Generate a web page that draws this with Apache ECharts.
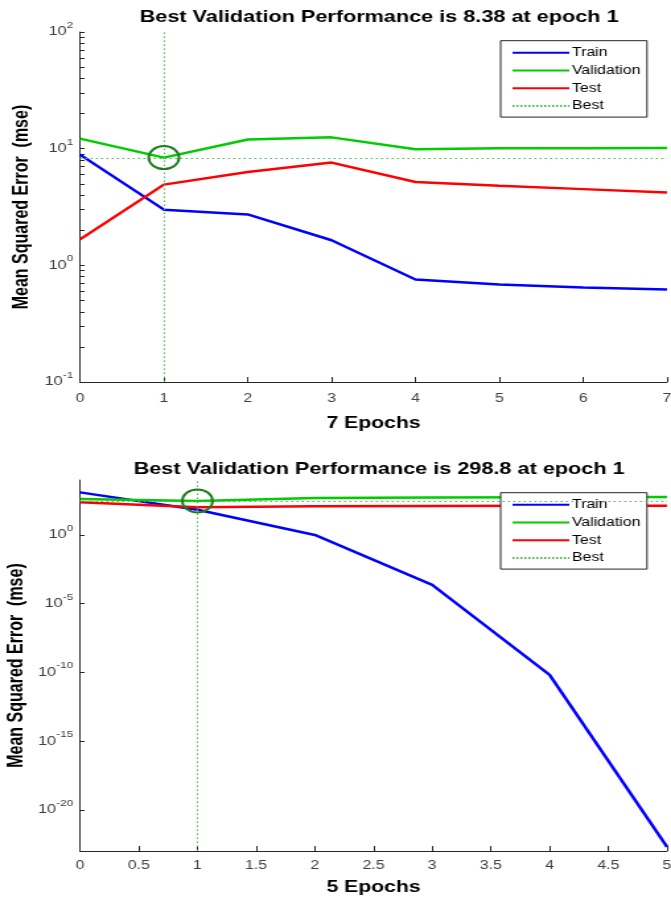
<!DOCTYPE html>
<html>
<head>
<meta charset="utf-8">
<title>Training performance</title>
<script src="https://cdn.jsdelivr.net/npm/echarts@6/dist/echarts.min.js"></script>
<style>
  html, body { margin: 0; padding: 0; background: #ffffff; overflow: hidden; }
  /* the figure is laid out on a narrower canvas and widened horizontally */
  #chart { width: 508px; height: 899px; transform: scaleX(1.3209); transform-origin: 0 0; }
</style>
</head>
<body>
<div id="chart"></div>
<script>
// ---- run 1: 7 epochs ----
const epochsA = [0, 1, 2, 3, 4, 5, 6, 7];
const trainA  = [8.9, 3.0, 2.73, 1.64, 0.757, 0.685, 0.645, 0.62];
const validA  = [12.2, 8.38, 12.0, 12.5, 9.9, 10.1, 10.1, 10.15];
const testA   = [1.67, 4.92, 6.3, 7.6, 5.18, 4.8, 4.5, 4.2];
const bestEpochA = 1;
const bestValueA = 8.38;
const yDecadesA = [-1, 0, 1, 2];          // log10 of labelled ticks
const xTicksA = { min: 0, max: 7, step: 1 };

// ---- run 2: 5 epochs ----
const epochsB = [0, 1, 2, 3, 4, 5];
const trainB  = [1260, 69, 1.0, 2.3e-4, 6.5e-11, 2e-23];
const validB  = [420, 298.8, 500, 530, 550, 570];
const testB   = [240, 105, 125, 130, 133, 135];
const bestEpochB = 1;
const bestValueB = 298.8;
const yDecadesB = [-20, -15, -10, -5, 0];
const yRangeB = [-23, 4];
const xTicksB = { min: 0, max: 5, step: 0.5 };

const seriesNames = ['Train', 'Validation', 'Test', 'Best'];

const FONT = "'Liberation Sans', Arial, Helvetica, sans-serif";
const AXIS = '#262626';
const TICKTXT = '#404040';
const C_TRAIN = '#0000ff', C_VALID = '#00cc00', C_TEST = '#ff0000';
const C_BEST = '#4cbb4c', C_CIRCLE = '#1f7d1f';

const lg = v => Math.log10(v);
const toPts = (xs, ys) => xs.map((x, i) => [x, lg(ys[i])]);

// minor ticks at 2..9 inside every decade
function decadeTicks(lo, hi) {
  const out = [];
  for (let d = lo; d <= hi; d++) {
    out.push(d);
    if (d < hi) for (let k = 2; k <= 9; k++) out.push(d + Math.log10(k));
  }
  return out;
}

const powLabel = v => '{b|10}{s|' + Math.round(v) + '}';
const powRich = {
  b: { fontSize: 12.5, color: TICKTXT, fontFamily: FONT, lineHeight: 22 },
  s: { fontSize: 9, color: TICKTXT, fontFamily: FONT, lineHeight: 11, verticalAlign: 'top' }
};

function lineSeries(name, color, xs, ys, idx) {
  return {
    name, type: 'line', xAxisIndex: idx, yAxisIndex: idx,
    data: toPts(xs, ys), symbol: 'none', silent: true,
    lineStyle: { color, width: 2.5 }, itemStyle: { color }, z: 3
  };
}

function bestSeries(epoch, value, idx) {
  const dots = { color: C_BEST, width: 1, type: [1.5, 2.5] };
  return {
    name: 'Best', type: 'line', xAxisIndex: idx, yAxisIndex: idx,
    data: [[epoch, lg(value)]], symbol: 'none', silent: true, z: 2,
    lineStyle: { color: C_BEST, width: 1, type: [1.5, 1.5] }, itemStyle: { color: C_BEST },
    markLine: {
      silent: true, symbol: ['none', 'none'], label: { show: false },
      lineStyle: dots, emphasis: { disabled: true },
      data: [{ xAxis: epoch }, { yAxis: lg(value) }]
    },
    markPoint: {
      silent: true, symbol: 'circle', symbolSize: 23, label: { show: false },
      itemStyle: { color: 'rgba(0,0,0,0)', borderColor: C_CIRCLE, borderWidth: 2 },
      data: [{ coord: [epoch, lg(value)] }]
    }
  };
}

function xAxis(idx, t, labelMargin, nameGap, name) {
  return {
    type: 'value', gridIndex: idx, min: t.min, max: t.max, interval: t.step,
    name, nameLocation: 'middle', nameGap, nameMoveOverlap: false,
    nameTextStyle: { fontSize: 16, fontWeight: 'bold', color: '#000', fontFamily: FONT },
    axisLine: { show: true, onZero: false, lineStyle: { color: AXIS, width: 1 } },
    axisTick: { show: true, inside: true, length: 5, lineStyle: { color: AXIS } },
    axisLabel: { fontSize: 12, color: TICKTXT, fontFamily: FONT, margin: labelMargin },
    splitLine: { show: false }
  };
}

function yAxis(idx, lo, hi, tickVals, labelVals, nameGap) {
  return {
    type: 'value', gridIndex: idx, min: lo, max: hi,
    name: 'Mean Squared Error  (mse)', nameLocation: 'middle', nameGap, nameMoveOverlap: false,
    nameTextStyle: { fontSize: 16, fontWeight: 'bold', color: '#000', fontFamily: FONT },
    axisLine: { show: true, onZero: false, lineStyle: { color: AXIS, width: 1 } },
    axisTick: { show: true, inside: true, length: 3.5, customValues: tickVals, lineStyle: { color: AXIS } },
    axisLabel: { customValues: labelVals, formatter: powLabel, rich: powRich, margin: 5 },
    splitLine: { show: false }
  };
}

function legend(top) {
  return {
    orient: 'vertical', left: 379, top, data: seriesNames, selectedMode: false,
    padding: [5, 5, 4, 8], itemWidth: 43, itemHeight: 12, itemGap: 3.8,
    backgroundColor: '#ffffff', borderColor: AXIS, borderWidth: 1, borderRadius: 0,
    itemStyle: { color: 'rgba(0,0,0,0)', borderWidth: 0, opacity: 0 },
    textStyle: { fontSize: 12, color: '#000', fontFamily: FONT, lineHeight: 14, padding: [0, 0, 0, -3] }
  };
}

function title(text, top) {
  return {
    text, left: 282, top, textAlign: 'center',
    textStyle: { fontSize: 16.4, fontWeight: 'bold', color: '#000', fontFamily: FONT }
  };
}

const chart = echarts.init(document.getElementById('chart'), null, { renderer: 'canvas' });
chart.setOption({
  animation: false,
  backgroundColor: '#ffffff',
  title: [
    title('Best Validation Performance is ' + bestValueA + ' at epoch ' + bestEpochA, 4),
    title('Best Validation Performance is ' + bestValueB + ' at epoch ' + bestEpochB, 456)
  ],
  legend: [legend(40.7), legend(492.7)],
  grid: [
    { left: 60.57, right: 3.04, top: 32, height: 350, containLabel: false, outerBoundsMode: 'none' },
    { left: 60.57, right: 3.04, top: 480, height: 371, containLabel: false, outerBoundsMode: 'none' }
  ],
  xAxis: [
    xAxis(0, xTicksA, 11, 34, epochsA.length - 1 + ' Epochs'),
    xAxis(1, xTicksB, 9, 29, epochsB.length - 1 + ' Epochs')
  ],
  yAxis: [
    yAxis(0, yDecadesA[0], yDecadesA[yDecadesA.length - 1],
      decadeTicks(yDecadesA[0], yDecadesA[yDecadesA.length - 1]), yDecadesA, 36),
    yAxis(1, yRangeB[0], yRangeB[1], yDecadesB, yDecadesB, 40)
  ],
  series: [
    lineSeries('Train', C_TRAIN, epochsA, trainA, 0),
    lineSeries('Validation', C_VALID, epochsA, validA, 0),
    lineSeries('Test', C_TEST, epochsA, testA, 0),
    bestSeries(bestEpochA, bestValueA, 0),
    lineSeries('Train', C_TRAIN, epochsB, trainB, 1),
    lineSeries('Validation', C_VALID, epochsB, validB, 1),
    lineSeries('Test', C_TEST, epochsB, testB, 1),
    bestSeries(bestEpochB, bestValueB, 1)
  ]
});
</script>
</body>
</html>
